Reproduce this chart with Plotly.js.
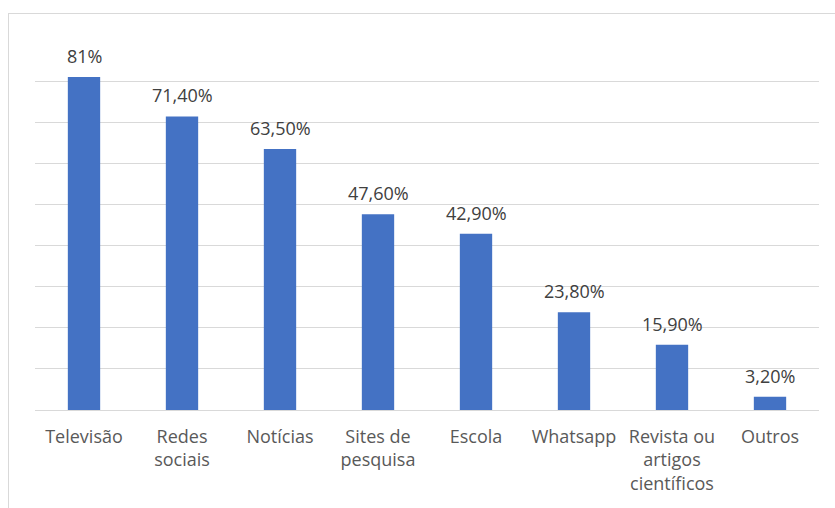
<!DOCTYPE html>
<html>
<head>
<meta charset="utf-8">
<script src="https://cdn.plot.ly/plotly-3.0.1.min.js"></script>
<style>
  html, body { margin: 0; padding: 0; background: #fff; }
  #wrap { position: relative; width: 835px; height: 508px; overflow: hidden; }
  #frame { position: absolute; left: 8px; top: 13px; width: 840px; height: 510px;
           border: 1.5px solid #d9d9d9; box-sizing: border-box; pointer-events: none; }
  #chart { position: absolute; left: 0; top: 0; width: 835px; height: 508px; }
</style>
</head>
<body>
<div id="wrap">
  <div id="chart"></div>
  <div id="frame"></div>
</div>
<script>
// Fontes de informação (percentual de respostas)
const categories = [
  "Televisão", "Redes<br>sociais", "Notícias", "Sites de<br>pesquisa",
  "Escola", "Whatsapp", "Revista ou<br>artigos<br>científicos", "Outros"
];
const values = [81, 71.4, 63.5, 47.6, 42.9, 23.8, 15.9, 3.2];

// Rótulos no formato pt-BR: inteiros sem casas, demais com duas casas e vírgula
function fmt(v) {
  return Number.isInteger(v) ? v + "%" : v.toFixed(2).replace(".", ",") + "%";
}

const font = "'Open Sans', 'Noto Sans', sans-serif";

const trace = {
  type: "bar",
  x: categories,
  y: values,
  marker: { color: "#4472C4" },
  hoverinfo: "none"
};

const labels = values.map((v, i) => ({
  x: categories[i], y: v, xref: "x", yref: "y",
  text: fmt(v), showarrow: false, yanchor: "bottom", yshift: 7,
  font: { family: font, size: 18, color: "#404040" }
}));

const layout = {
  width: 835, height: 508,
  margin: { l: 35, r: 16, t: 40, b: 98 },
  paper_bgcolor: "#ffffff", plot_bgcolor: "#ffffff",
  bargap: 0.67,
  showlegend: false,
  xaxis: {
    type: "category",
    showgrid: false, zeroline: false, showline: false,
    ticks: "", ticklabelstandoff: 14,
    tickfont: { family: font, size: 18, color: "#595959" }
  },
  yaxis: {
    range: [0, 90], dtick: 10, tick0: 0,
    showticklabels: false, ticks: "",
    showgrid: true, gridcolor: "#d9d9d9", gridwidth: 1,
    zeroline: true, zerolinecolor: "#d9d9d9", zerolinewidth: 1,
    showline: false
  },
  annotations: labels
};

Plotly.newPlot("chart", [trace], layout, { displayModeBar: false, staticPlot: true });
</script>
</body>
</html>
